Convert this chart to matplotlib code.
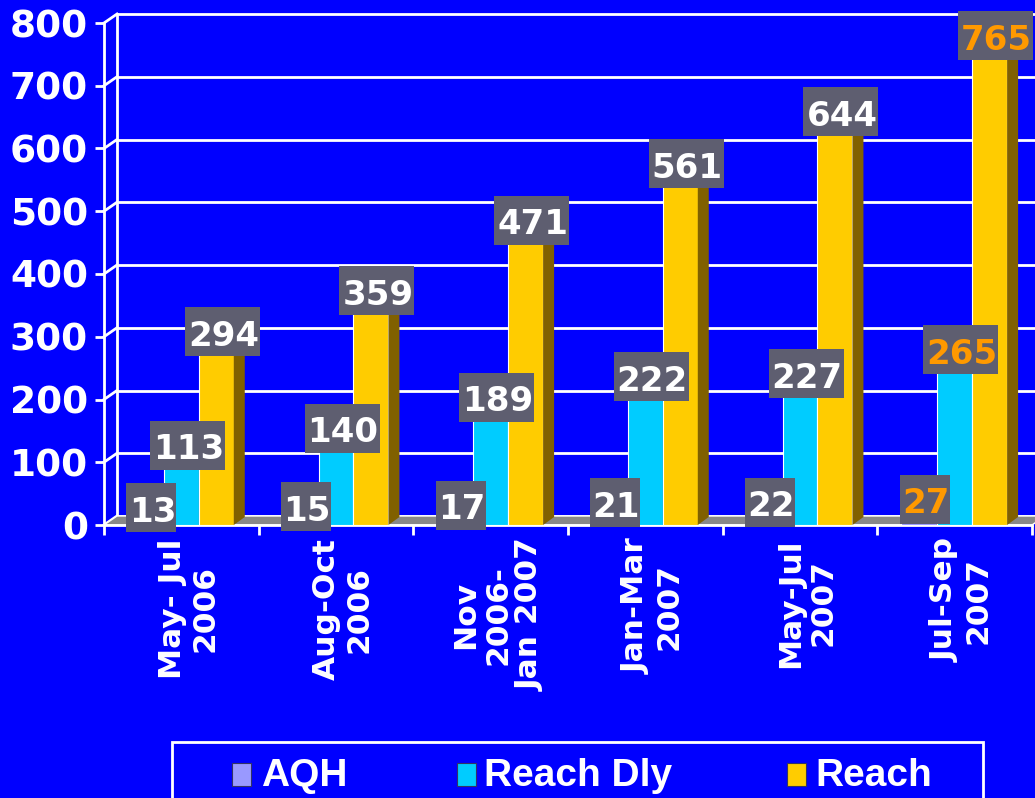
import matplotlib
matplotlib.use("Agg")
import matplotlib.pyplot as plt
import matplotlib.transforms as mtransforms
from matplotlib.patches import Polygon, Rectangle
from matplotlib.lines import Line2D

categories = ["May- Jul\n2006", "Aug-Oct\n2006", "Nov\n2006-\nJan 2007",
              "Jan-Mar\n2007", "May-Jul\n2007", "Jul-Sep\n2007"]
series_names = ["AQH", "Reach Dly", "Reach"]
aqh = [13, 15, 17, 21, 22, 27]
reach_dly = [113, 140, 189, 222, 227, 265]
reach = [294, 359, 471, 561, 644, 765]
yticks = [0, 100, 200, 300, 400, 500, 600, 700, 800]

BG = "#0000FF"
FRONT = ["#9999FF", "#00CCFF", "#FFCC00"]
SIDE = ["#5050A0", "#007A99", "#806000"]
TOP = ["#BBBBFF", "#66E0FF", "#FFE066"]
BOX = "#5E5E70"
ORANGE = "#FF9900"

W, H = 1035, 798
fig = plt.figure(figsize=(W / 100, H / 100), dpi=100, facecolor=BG)
ax = fig.add_axes([104 / W, 273 / H, 928 / W, 502 / H])
ax.set_facecolor("none")
ax.set_xlim(-0.5, 5.5)
ax.set_ylim(0, 800)
ID = mtransforms.IdentityTransform()

def disp(x, y):
    return ax.transData.transform((x, y))

DXW, DYW = 13, 9   # wall depth (pixels)
DXB, DYB = 11, 8   # bar depth (pixels)

# back wall gridlines and left wall slants
for v in yticks:
    x0, y0 = disp(-0.5, v)
    ax.add_line(Line2D([x0 + DXW, W + 20], [y0 + DYW, y0 + DYW], color="white",
                       lw=2, transform=ID, clip_on=False, zorder=1))
    ax.add_line(Line2D([x0, x0 + DXW], [y0, y0 + DYW], color="white",
                       lw=2, transform=ID, clip_on=False, zorder=1))
xb0, yb0 = disp(-0.5, 0)
xb1, yb1 = disp(-0.5, 800)
ax.add_line(Line2D([xb0 + DXW, xb1 + DXW], [yb0 + DYW, yb1 + DYW], color="white",
                   lw=2, transform=ID, clip_on=False, zorder=1))

# floor
xr0, yr0 = disp(5.5, 0)
ax.add_patch(Polygon([(xb0, yb0), (xb0 + DXW, yb0 + DYW), (xr0 + DXW, yr0 + DYW), (xr0, yr0)],
                     closed=True, facecolor="#888888", edgecolor="white", lw=1,
                     transform=ID, clip_on=False, zorder=2))

# bars
width = 0.226
offsets = [-0.232, 0.0, 0.226]
all_series = [aqh, reach_dly, reach]
x = list(range(len(categories)))
for j, vals in enumerate(all_series):
    for i, v in enumerate(vals):
        xc = x[i] + offsets[j]
        z = 3 + j
        ax.bar(xc, v, width=width, color=FRONT[j], edgecolor="white", lw=0.8, zorder=z)
        xl, yt = disp(xc - width / 2, v)
        xr, y0 = disp(xc + width / 2, 0)
        ax.add_patch(Polygon([(xr, y0), (xr + DXB, y0 + DYB), (xr + DXB, yt + DYB), (xr, yt)],
                             closed=True, facecolor=SIDE[j], edgecolor="none",
                             transform=ID, clip_on=False, zorder=z))
        ax.add_patch(Polygon([(xl, yt), (xr, yt), (xr + DXB, yt + DYB), (xl + DXB, yt + DYB)],
                             closed=True, facecolor=TOP[j], edgecolor="none",
                             transform=ID, clip_on=False, zorder=z))

# value labels
for j, vals in enumerate(all_series):
    for i, v in enumerate(vals):
        xc = x[i] + offsets[j]
        px, py = disp(xc, v)
        cx, cy = px + 6, py + 9
        s = str(v)
        bw, bh = 25 * len(s), 49
        ax.add_patch(Rectangle((cx - bw / 2, cy - bh / 2), bw, bh, facecolor=BOX,
                               edgecolor="none", transform=ID, clip_on=False, zorder=10))
        col = ORANGE if i == len(categories) - 1 else "white"
        ax.text(cx + 1, cy - 1, s, transform=ID, ha="center", va="center_baseline",
                fontsize=24.5, fontweight="bold", color=col, zorder=11, clip_on=False)

# axes styling
for sp in ["top", "right"]:
    ax.spines[sp].set_visible(False)
for sp in ["left", "bottom"]:
    ax.spines[sp].set_color("white")
    ax.spines[sp].set_linewidth(2)
    ax.spines[sp].set_zorder(2.5)

ax.set_yticks(yticks)
ax.set_yticklabels([str(t) for t in yticks])
ax.tick_params(axis="y", colors="white", length=6.5, width=2, pad=5,
               labelsize=27)
for lab in ax.get_yticklabels():
    lab.set_fontweight("bold")

ax.set_xticks(x)
ax.set_xticklabels(categories, rotation=90, ha="center", va="top",
                   multialignment="center", linespacing=1.15)
ax.set_xticks([i - 0.5 for i in range(len(categories) + 1)], minor=True)
ax.tick_params(axis="x", which="major", length=0, pad=9.5, labelsize=22.5,
               colors="white")
ax.tick_params(axis="x", which="minor", length=7.5, width=2, colors="white")
shift = mtransforms.ScaledTranslation(7 / 100, 0, fig.dpi_scale_trans)
for lab in ax.get_xticklabels():
    lab.set_fontweight("bold")
    lab.set_transform(lab.get_transform() + shift)

# legend (custom)
fig.patches.append(Rectangle((172, -10), 811, H - 742 + 10, facecolor="none",
                             edgecolor="white", lw=2, transform=ID, figure=fig))
leg_sq_x = [232, 457, 787]
leg_tx_x = [261, 484, 815]
for j, name in enumerate(series_names):
    fig.patches.append(Rectangle((leg_sq_x[j], H - 786), 19, 23, facecolor=FRONT[j],
                                 edgecolor="#333366", lw=0.8, transform=ID, figure=fig))
    fig.text(leg_tx_x[j], H - 786, name, transform=ID, ha="left", va="baseline",
             fontsize=28, fontweight="bold", color="white", family="Liberation Sans")

fig.savefig("out.png", dpi=100, facecolor=BG)
